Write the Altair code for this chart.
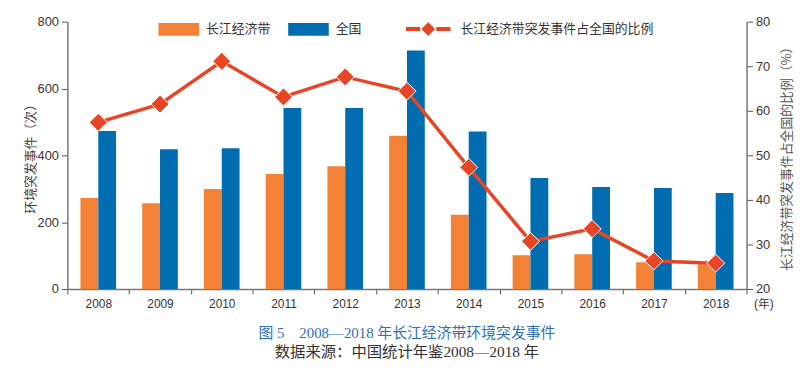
import altair as alt
import pandas as pd

years = ['2008', '2009', '2010', '2011', '2012', '2013', '2014', '2015', '2016', '2017', '2018']
yangtze = [272, 257, 299, 344, 367, 459, 222, 101, 104, 80, 74]
national = [473, 418, 421, 542, 542, 714, 471, 332, 305, 302, 287]
ratio = [57.4, 61.5, 71.1, 63.1, 67.6, 64.4, 47.3, 30.7, 33.5, 26.3, 25.8]

bar_series = ['长江经济带', '全国']
line_series = '长江经济带突发事件占全国的比例'

ORANGE = '#F38237'
BLUE = '#006DB0'
RED = '#E64626'
FONT = 'Liberation Sans, Noto Sans CJK SC, sans-serif'
CJK = 'Noto Sans CJK SC, sans-serif'
SERIF = 'Liberation Serif, Noto Sans CJK SC, serif'

rows = []
for i, y in enumerate(years):
    rows.append({'year': y, 'series': bar_series[0], 'value': yangtze[i]})
    rows.append({'year': y, 'series': bar_series[1], 'value': national[i]})
df_bars = pd.DataFrame(rows)
df_line = pd.DataFrame({'year': years, 'ratio': ratio, 'series': [line_series] * len(years)})

x_enc = alt.X('year:N', sort=years,
              scale=alt.Scale(paddingInner=0, paddingOuter=0),
              axis=alt.Axis(title='(年)', tickBand='extent', labelAngle=0,
                            labelFont=FONT, labelFontSize=12, labelColor='#333',
                            labelPadding=5, tickSize=5, tickColor='#555',
                            domainColor='#777', domainWidth=1.5,
                            titleFont=FONT, titleFontSize=12, titleFontWeight='normal',
                            titleColor='#333', titleAlign='left', titleBaseline='top',
                            titleAnchor='start', titleX=693, titleY=10))

bar_rect = 'M-1,-0.317L1,-0.317L1,0.317L-1,0.317Z'
line_sym = ('M-1,-0.09L-0.36,-0.09L-0.36,0.09L-1,0.09Z '
            'M0.36,-0.09L1,-0.09L1,0.09L0.36,0.09Z '
            'M0,-0.31L0.31,0L0,0.31L-0.31,0Z')

bars = alt.Chart(df_bars).mark_bar().encode(
    x=x_enc,
    xOffset=alt.XOffset('series:N', sort=bar_series,
                        scale=alt.Scale(domain=bar_series, paddingInner=0, paddingOuter=0.733)),
    y=alt.Y('value:Q', scale=alt.Scale(domain=[0, 800]),
            axis=alt.Axis(title='环境突发事件（次）', values=[0, 200, 400, 600, 800], grid=False,
                          labelFont=FONT, labelFontSize=13, labelColor='#3a3530', labelPadding=3,
                          tickSize=6, tickColor='#555', domainColor='#777', domainWidth=1.5,
                          titleFont=CJK, titleFontSize=13, titleFontWeight='normal',
                          titleColor='#444', titleAngle=270, titleAlign='center',
                          titleBaseline='middle', titleX=-37, titleY=135)),
    color=alt.Color('series:N', sort=bar_series,
                    scale=alt.Scale(domain=bar_series, range=[ORANGE, BLUE]),
                    legend=alt.Legend(title=None, orient='none', direction='horizontal',
                                      legendX=92, legendY=-13, padding=0,
                                      symbolType=bar_rect, symbolSize=1681, symbolStrokeWidth=0,
                                      labelFont=CJK, labelFontSize=13, labelColor='#333',
                                      labelOffset=7, columnPadding=17, labelLimit=300)),
)

y_ratio = alt.Y('ratio:Q', scale=alt.Scale(domain=[20, 80]),
                axis=alt.Axis(title='长江经济带突发事件占全国的比例（%）', orient='right',
                              values=[20, 30, 40, 50, 60, 70, 80], grid=False,
                              labelFont=FONT, labelFontSize=13, labelColor='#3a3530', labelPadding=3,
                              tickSize=6, tickColor='#555', domainColor='#777', domainWidth=1.5,
                              titleFont=CJK, titleFontSize=13, titleFontWeight='normal',
                              titleColor='#555', titleAngle=270, titlePadding=24))

line = alt.Chart(df_line).mark_line(color=RED, strokeWidth=3.5).encode(
    x=x_enc, y=y_ratio)

points = alt.Chart(df_line).mark_point(shape='diamond', filled=True, size=330,
                                       stroke='white', strokeWidth=1, opacity=1).encode(
    x=x_enc, y=y_ratio,
    fill=alt.Fill('series:N', scale=alt.Scale(domain=[line_series], range=[RED]),
                  legend=alt.Legend(title=None, orient='none', direction='horizontal',
                                    legendX=342, legendY=-15, padding=0,
                                    symbolType=line_sym, symbolSize=2025, symbolStrokeWidth=0,
                                    symbolOpacity=1,
                                    labelFont=CJK, labelFontSize=13, labelColor='#333',
                                    labelOffset=10, labelLimit=400)),
)

chart = alt.layer(bars, alt.layer(line, points)).resolve_scale(
    y='independent', color='independent', fill='independent'
).properties(
    width=686, height=270,
    autosize=alt.AutoSizeParams(type='none'),
    padding={'left': 60, 'top': 12, 'right': 55, 'bottom': 81},
    title=alt.Title(text='图 5　2008—2018 年长江经济带环境突发事件',
                    subtitle='数据来源：中国统计年鉴2008—2018 年',
                    orient='bottom', anchor='middle', offset=17,
                    font=SERIF, fontSize=15,
                    fontWeight='normal', color='#2F6FB5',
                    subtitleFont=SERIF,
                    subtitleFontSize=15.5, subtitleColor='#333', subtitlePadding=4),
).configure_view(stroke=None)

chart.save('out.html', embed_options={'renderer': 'svg', 'actions': False})
